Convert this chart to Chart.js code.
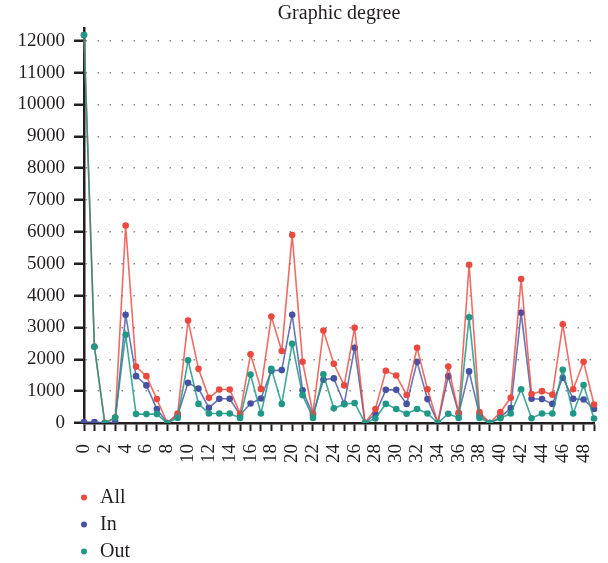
<!DOCTYPE html>
<html>
<head>
<meta charset="utf-8">
<script src="https://cdn.jsdelivr.net/npm/chart.js@4"></script>
<style>
  body { margin: 0; background: #fff; }
</style>
</head>
<body>
<canvas id="myChart" width="608" height="563"></canvas>
<script>
var categories = [0, 1, 2, 3, 4, 5, 6, 7, 8, 9, 10, 11, 12, 13, 14, 15, 16, 17, 18, 19,
    20, 21, 22, 23, 24, 25, 26, 27, 28, 29, 30, 31, 32, 33, 34, 35, 36, 37, 38, 39,
    40, 41, 42, 43, 44, 45, 46, 47, 48, 49];

var allValues = [12180, 2400, 0, 170, 6200, 1770, 1470, 750, 0, 300,
    3220, 1700, 790, 1050, 1050, 300, 2160, 1070, 3340, 2260,
    5900, 1920, 300, 2900, 1860, 1180, 2990, 0, 440, 1640,
    1490, 880, 2360, 1060, 0, 1770, 320, 4970, 340, 0,
    340, 790, 4520, 910, 1000, 890, 3100, 1060, 1920, 580];

var inValues = [30, 30, 0, 30, 3400, 1470, 1180, 440, 0, 250,
    1260, 1080, 480, 760, 760, 250, 610, 770, 1640, 1660,
    3400, 1030, 250, 1360, 1400, 600, 2360, 0, 290, 1040,
    1040, 600, 1920, 750, 0, 1470, 300, 1620, 250, 0,
    180, 470, 3460, 760, 750, 600, 1420, 760, 740, 440];

var outValues = [12180, 2390, 0, 170, 2770, 280, 280, 280, 0, 160,
    1970, 600, 300, 300, 300, 160, 1520, 300, 1700, 600,
    2490, 875, 160, 1530, 460, 590, 630, 0, 140, 600,
    440, 290, 440, 300, 0, 290, 160, 3320, 160, 0,
    150, 300, 1060, 150, 300, 300, 1670, 300, 1190, 140];

var xTickLabels = [0, 2, 4, 6, 8, 10, 12, 14, 16, 18, 20, 22, 24, 26, 28, 30, 32, 34,
    36, 38, 40, 42, 44, 46, 48];
var yTicks = [0, 1000, 2000, 3000, 4000, 5000, 6000, 7000, 8000, 9000, 10000, 11000, 12000];

var serif = "'Liberation Serif', 'Times New Roman', serif";
var ink = '#231f20';

// legend is stacked under the plot, one entry per line
var legendBelow = {
    id: 'legendBelow',
    afterDraw: function (chart) {
        var ctx = chart.ctx;
        ctx.save();
        ctx.font = '20px ' + serif;
        ctx.textBaseline = 'alphabetic';
        chart.data.datasets.forEach(function (ds, i) {
            var y = 503 + i * 27;
            ctx.fillStyle = ds.pointBackgroundColor;
            ctx.beginPath();
            ctx.arc(84, y - 5.5, 3, 0, Math.PI * 2);
            ctx.fill();
            ctx.fillStyle = ink;
            ctx.fillText(ds.label, 100, y);
        });
        ctx.restore();
    }
};

function series(label, values, color, lineColor, order) {
    return {
        label: label,
        data: values,
        borderColor: lineColor,
        borderWidth: 1.6,
        pointBackgroundColor: color,
        pointBorderColor: color,
        pointBorderWidth: 0,
        pointRadius: 3.3,
        tension: 0,
        order: order
    };
}

new Chart('myChart', {
    type: 'line',
    data: {
        labels: categories,
        datasets: [
            series('All', allValues, '#e9493f', 'rgba(233,73,63,0.8)', 1),
            series('In', inValues, '#4651a3', 'rgba(70,81,163,0.8)', 2),
            series('Out', outValues, '#1f9886', 'rgba(31,152,134,0.85)', 0)
        ]
    },
    options: {
        responsive: false,
        animation: false,
        layout: { padding: { left: 0, right: 14, bottom: 95 } },
        plugins: {
            legend: { display: false },
            tooltip: { enabled: false },
            title: {
                display: true,
                text: 'Graphic degree',
                fullSize: false,
                color: ink,
                font: { family: serif, size: 20, weight: 'normal' },
                padding: { top: 2, bottom: 2 }
            }
        },
        scales: {
            x: {
                type: 'category',
                offset: false,
                border: { color: ink, width: 2.5 },
                grid: { drawOnChartArea: false, tickLength: 8, tickColor: ink, tickWidth: 2 },
                ticks: {
                    autoSkip: false,
                    minRotation: 90,
                    maxRotation: 90,
                    padding: 13,
                    color: ink,
                    font: { family: serif, size: 19 },
                    callback: function (v, i) {
                        return xTickLabels.indexOf(categories[i]) >= 0 ? String(categories[i]) : '';
                    }
                },
                afterFit: function (s) {
                    s.height = 45;
                    s.paddingLeft = 0;
                    s.paddingRight = 0;
                }
            },
            y: {
                min: 0,
                max: 12400,
                border: { color: ink, width: 2.5, dash: [1.5, 10.5] },
                grid: { color: '#8a8a8a', lineWidth: 1.5, tickLength: 10, tickColor: ink, tickWidth: 2.5, tickBorderDash: [] },
                ticks: {
                    padding: 9,
                    color: ink,
                    font: { family: serif, size: 19 },
                    callback: function (v) { return String(v); }
                },
                afterBuildTicks: function (s) {
                    s.ticks = yTicks.map(function (v) { return { value: v }; });
                },
                afterFit: function (s) { s.width = 84; }
            }
        }
    },
    plugins: [legendBelow]
});
</script>
</body>
</html>
